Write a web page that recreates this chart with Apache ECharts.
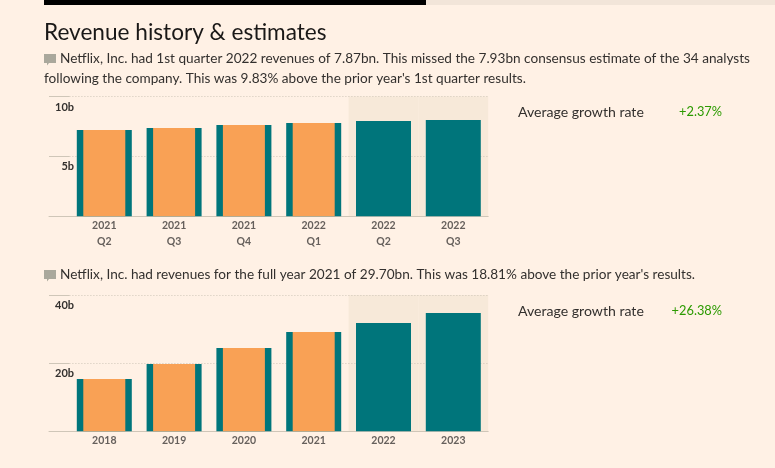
<!DOCTYPE html>
<html>
<head>
<meta charset="utf-8">
<style>html,body{margin:0;padding:0;background:#fff1e5;overflow:hidden}#c{width:775px;height:468px}</style>
<script src="https://cdn.jsdelivr.net/npm/echarts@6/dist/echarts.min.js"></script>
</head>
<body>
<div id="c"></div>
<script>
const quarterCategories = ['2021\nQ2','2021\nQ3','2021\nQ4','2022\nQ1','2022\nQ2','2022\nQ3'];
const quarterEstimates = [7.2,7.37,7.62,7.79,7.95,8.04];
const quarterActuals = [7.2,7.37,7.62,7.79,null,null];
const quarterMax = 10, quarterInterval = 5;
const yearCategories = ['2018','2019','2020','2021','2022','2023'];
const yearEstimates = [15.35,19.75,24.45,29.15,31.8,34.7];
const yearActuals = [15.35,19.75,24.45,29.15,null,null];
const yearMax = 40, yearInterval = 20;
const forecastFlags = [0,0,0,0,1,1];

const FONT = 'Lato';
const BG='#fff1e5', TEAL='#00757b', ORANGE='#f9a155', BAND='#f7e9d9', RULE='#cfc6b8', GREEN='#2b9a00', INK='#33302e', MUTED='#66605c';
const chart = echarts.init(document.getElementById('c'), null, {renderer:'canvas'});

const grid=[], xAxis=[], yAxis=[], series=[];
function panel(cats, est, act, max, interval, top, height){
  const g0 = grid.length;
  grid.push({left:49,width:20.4,top,height},{left:69.4,width:418.8,top,height});
  const labelStyle = {color:INK,fontFamily:FONT,fontSize:11,fontWeight:700};
  const x0 = xAxis.length;
  const axLine = {show:true,lineStyle:{color:RULE,width:1}};
  xAxis.push({type:'category',gridIndex:g0,data:[''],axisLine:axLine,axisTick:{show:false},axisLabel:{show:false}});
  xAxis.push({type:'category',gridIndex:g0+1,data:cats,axisLine:axLine,axisTick:{show:false},
    axisLabel:{color:MUTED,fontFamily:FONT,fontSize:10.5,fontWeight:700,lineHeight:16.5,margin:1,interval:0}});
  xAxis.push({type:'category',gridIndex:g0+1,data:cats,show:false});
  xAxis.push({type:'category',gridIndex:g0+1,data:cats,show:false});
  const y0 = yAxis.length;
  yAxis.push({type:'value',gridIndex:g0,min:0,max,interval,axisLine:{show:false},axisTick:{show:false},
    splitLine:{show:true,lineStyle:{color:RULE,width:1,type:'solid'}},
    axisLabel:{inside:true,align:'right',margin:25,verticalAlign:'top',padding:[5,0,0,0],...labelStyle,
      showMinLabel:false,hideOverlap:false,formatter:v=>v===0?'':v+'b'}});
  yAxis.push({type:'value',gridIndex:g0+1,min:0,max,interval,axisLine:{show:false},axisTick:{show:false},axisLabel:{show:false},
    splitLine:{show:true,lineStyle:{color:RULE,width:1,type:[1,2]}}});
  series.push({type:'bar',xAxisIndex:x0+3,yAxisIndex:y0+1,barWidth:'100%',z:-1,silent:true,
    itemStyle:{color:BAND},data:forecastFlags.map(f=>f?max:null)});
  series.push({type:'bar',xAxisIndex:x0+1,yAxisIndex:y0+1,barWidth:55,silent:true,itemStyle:{color:TEAL},data:est});
  series.push({type:'bar',xAxisIndex:x0+2,yAxisIndex:y0+1,barWidth:42,silent:true,itemStyle:{color:ORANGE},data:act});
}
panel(quarterCategories,quarterEstimates,quarterActuals,quarterMax,quarterInterval,96.5,119.8);
panel(yearCategories,yearEstimates,yearActuals,yearMax,yearInterval,295,136.3);

function txt(x,y,text,size,color,align){
  return {type:'text',x,y,silent:true,style:{text,fontFamily:FONT,fontSize:size,fill:color,align:align||'left',verticalAlign:'middle'}};
}
function bubble(x,y){
  return {type:'polygon',silent:true,shape:{points:[[x,y],[x+12,y],[x+12,y+9],[x+5,y+9],[x+3,y+11.5],[x+3,y+9],[x,y+9]]},style:{fill:'#aaa89c'}};
}
const BODY=13.6;
const graphic=[
  {type:'rect',silent:true,shape:{x:44,y:0,width:382,height:5},style:{fill:'#000'}},
  {type:'rect',silent:true,shape:{x:426,y:0,width:349,height:5},style:{fill:'#f2e5d9'}},
  txt(44,33,'Revenue history & estimates',22.6,'#1a1817'),
  bubble(44,54),
  txt(60,59,'Netflix, Inc. had 1st quarter 2022 revenues of 7.87bn. This missed the 7.93bn consensus estimate of the 34 analysts',BODY,INK),
  txt(44,78.5,"following the company. This was 9.83% above the prior year's 1st quarter results.",BODY,INK),
  txt(518,112,'Average growth rate',14.1,INK),
  txt(722,112,'+2.37%',12.8,GREEN,'right'),
  bubble(44,270),
  txt(60,275,"Netflix, Inc. had revenues for the full year 2021 of 29.70bn. This was 18.81% above the prior year's results.",BODY,INK),
  txt(518,311,'Average growth rate',14.1,INK),
  txt(722,311,'+26.38%',12.8,GREEN,'right')
];
chart.setOption({animation:false,backgroundColor:BG,tooltip:{show:false},grid,xAxis,yAxis,series,graphic});
</script>
</body>
</html>
